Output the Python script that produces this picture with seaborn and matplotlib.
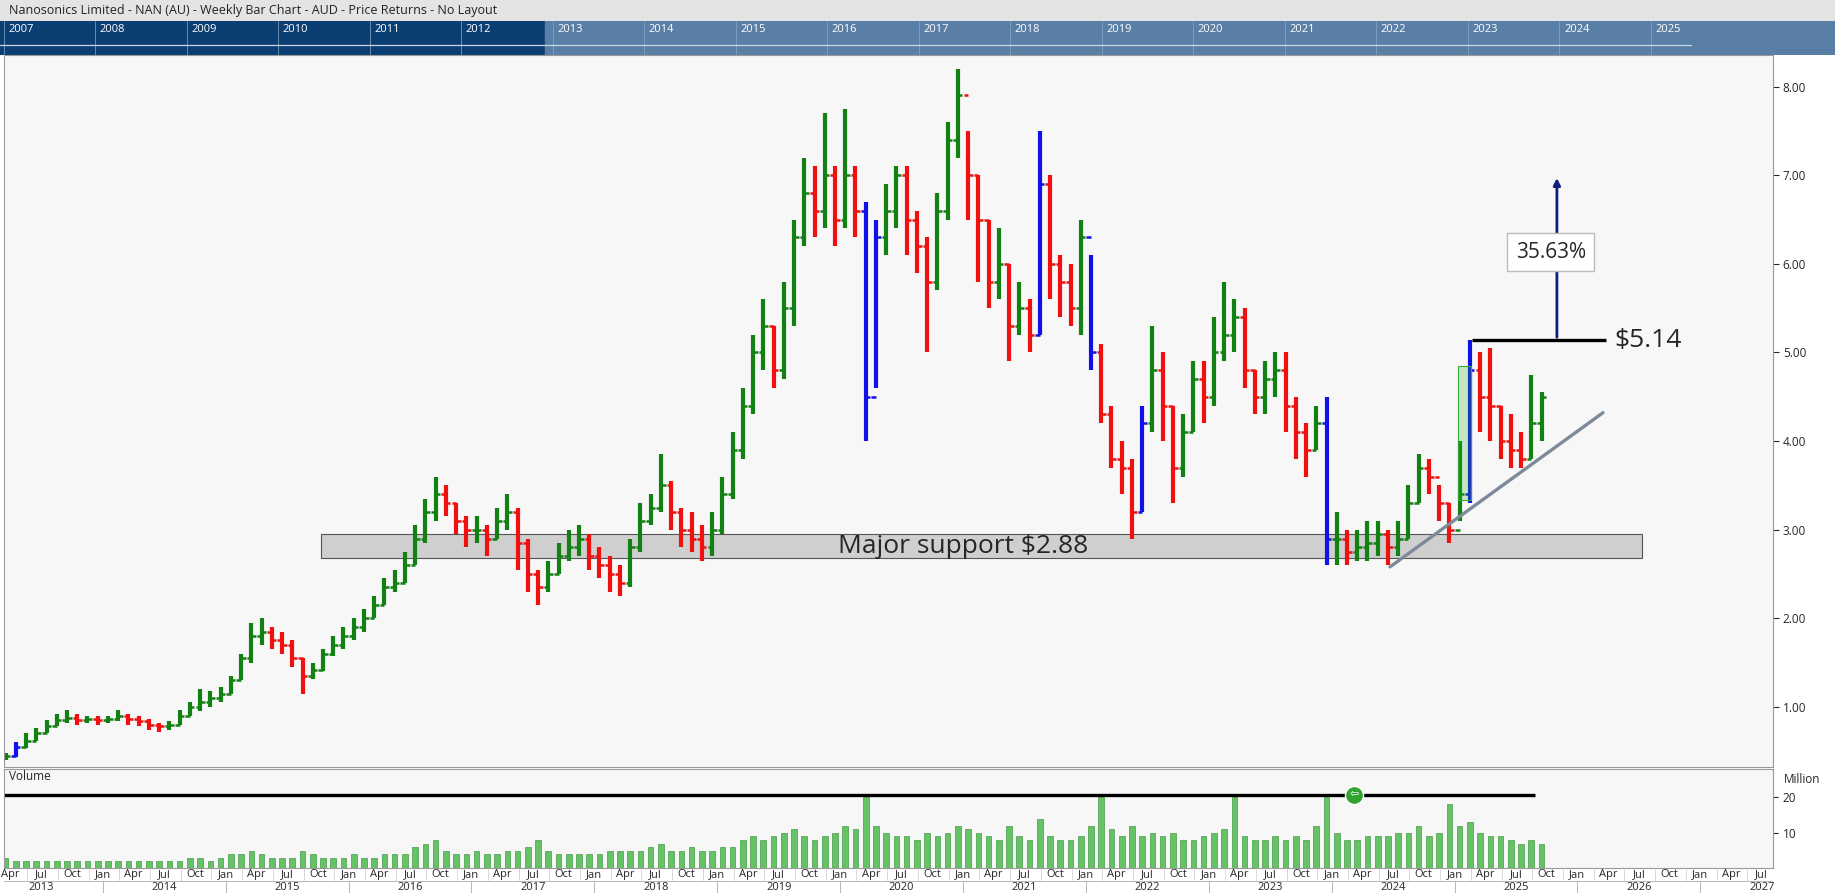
import matplotlib
matplotlib.use("Agg")
import matplotlib.pyplot as plt
import matplotlib.patches as mpatches
import numpy as np
import seaborn as sns

sns.set_style("white")
plt.rcParams['font.family'] = ['Open Sans', 'DejaVu Sans']

# monthly bars, first bar = Mar 2013 (month index 2, Jan 2013 = 0)
START = 2
close = [0.45, 0.55, 0.62, 0.70, 0.78, 0.85, 0.88, 0.85, 0.86, 0.85,
         0.86, 0.90, 0.86, 0.84, 0.80, 0.78, 0.80, 0.90, 1.00, 1.05, 1.10, 1.15,
         1.30, 1.55, 1.80, 1.85, 1.75, 1.70, 1.55, 1.35, 1.42, 1.60, 1.70, 1.80,
         1.90, 2.00, 2.15, 2.35, 2.40, 2.60, 2.90, 3.20, 3.40, 3.30, 3.10, 3.00,
         3.00, 2.90, 3.10, 3.20, 2.85, 2.50, 2.35, 2.50, 2.70, 2.80, 2.90, 2.70,
         2.60, 2.50, 2.40, 2.80, 3.10, 3.25, 3.50, 3.20, 3.00, 2.90, 2.80, 3.00,
         3.40, 3.90, 4.40, 5.00, 5.30, 4.80, 5.50, 6.30, 6.80, 6.60, 7.00, 6.50,
         7.00, 6.60, 4.50, 6.30, 6.60, 7.00, 6.50, 6.20, 5.80, 6.60, 7.40, 7.90,
         7.00, 6.50, 5.80, 6.00, 5.30, 5.50, 5.20, 6.90, 6.00, 5.80, 5.50, 6.30,
         5.00, 4.30, 3.80, 3.70, 3.20, 4.20, 4.80, 4.40, 3.70, 4.10, 4.70, 4.50,
         5.00, 5.20, 5.40, 4.80, 4.50, 4.70, 4.80, 4.40, 4.10, 3.90, 4.20, 2.90,
         2.90, 2.75, 2.80, 2.85, 2.95, 2.80, 2.90, 3.30, 3.70, 3.60, 3.30, 3.00,
         3.40, 4.80, 4.50, 4.40, 4.00, 3.90, 3.80, 4.20, 4.50]
high = [0.48, 0.60, 0.70, 0.76, 0.85, 0.92, 0.96, 0.92, 0.90, 0.90,
        0.90, 0.96, 0.92, 0.90, 0.86, 0.82, 0.84, 0.96, 1.06, 1.20, 1.18, 1.22,
        1.35, 1.60, 1.95, 2.00, 1.90, 1.85, 1.75, 1.55, 1.50, 1.65, 1.80, 1.90,
        2.00, 2.10, 2.25, 2.45, 2.55, 2.75, 3.05, 3.35, 3.60, 3.50, 3.30, 3.15,
        3.15, 3.05, 3.25, 3.40, 3.25, 2.90, 2.55, 2.65, 2.85, 3.00, 3.05, 2.95,
        2.80, 2.70, 2.60, 2.90, 3.30, 3.40, 3.85, 3.55, 3.25, 3.20, 3.05, 3.20,
        3.60, 4.10, 4.60, 5.20, 5.60, 5.30, 5.80, 6.50, 7.20, 7.10, 7.70, 7.10,
        7.75, 7.10, 6.70, 6.50, 6.90, 7.10, 7.10, 6.60, 6.30, 6.80, 7.60, 8.20,
        7.50, 7.00, 6.50, 6.40, 6.00, 5.80, 5.60, 7.50, 7.00, 6.10, 6.00, 6.50,
        6.10, 5.10, 4.40, 4.00, 3.80, 4.40, 5.30, 5.00, 4.40, 4.30, 4.90, 4.90,
        5.40, 5.80, 5.60, 5.50, 4.80, 4.90, 5.00, 5.00, 4.50, 4.20, 4.40, 4.50,
        3.20, 3.00, 3.00, 3.10, 3.10, 3.00, 3.10, 3.50, 3.85, 3.80, 3.50, 3.30,
        4.00, 5.14, 5.00, 5.05, 4.40, 4.30, 4.10, 4.75, 4.55]
low = [0.40, 0.44, 0.54, 0.62, 0.70, 0.78, 0.82, 0.80, 0.82, 0.80,
       0.82, 0.84, 0.80, 0.78, 0.74, 0.72, 0.74, 0.80, 0.90, 0.95, 1.00, 1.05,
       1.15, 1.30, 1.50, 1.70, 1.65, 1.60, 1.45, 1.15, 1.32, 1.40, 1.58, 1.65,
       1.75, 1.85, 2.00, 2.15, 2.30, 2.40, 2.60, 2.85, 3.10, 3.15, 2.95, 2.80,
       2.85, 2.70, 2.90, 3.00, 2.55, 2.30, 2.15, 2.30, 2.50, 2.65, 2.70, 2.55,
       2.45, 2.30, 2.25, 2.35, 2.75, 3.05, 3.20, 3.00, 2.80, 2.75, 2.65, 2.70,
       2.95, 3.35, 3.80, 4.30, 4.80, 4.60, 4.70, 5.30, 6.20, 6.30, 6.40, 6.20,
       6.40, 6.30, 4.00, 4.60, 6.10, 6.40, 6.10, 5.90, 5.00, 5.70, 6.50, 7.20,
       6.50, 5.80, 5.50, 5.60, 4.90, 5.20, 5.00, 5.20, 5.60, 5.40, 5.30, 5.20,
       4.80, 4.20, 3.70, 3.40, 2.90, 3.20, 4.10, 4.00, 3.30, 3.60, 4.10, 4.20,
       4.40, 4.90, 5.00, 4.60, 4.30, 4.30, 4.50, 4.10, 3.80, 3.60, 3.90, 2.60,
       2.60, 2.60, 2.65, 2.65, 2.70, 2.60, 2.70, 2.90, 3.30, 3.40, 3.10, 2.85,
       3.10, 3.30, 4.10, 4.00, 3.80, 3.70, 3.70, 3.80, 4.00]
volume = [3, 2, 2, 2, 2, 2, 2, 2, 2, 2,
          2, 2, 2, 2, 2, 2, 2, 2, 3, 3, 2, 3,
          4, 4, 5, 4, 3, 3, 3, 5, 4, 3, 3, 3,
          4, 3, 3, 4, 4, 4, 6, 7, 8, 5, 4, 4,
          5, 4, 4, 5, 5, 6, 8, 5, 4, 4, 4, 4,
          4, 5, 5, 5, 5, 6, 7, 5, 5, 6, 5, 5,
          6, 6, 8, 9, 8, 9, 10, 11, 9, 8, 9, 10,
          12, 11, 20, 12, 10, 9, 9, 8, 10, 9, 10, 12,
          11, 10, 9, 8, 12, 9, 8, 14, 9, 8, 8, 9,
          12, 20, 11, 9, 12, 9, 10, 9, 10, 8, 8, 9,
          10, 11, 20, 9, 8, 8, 9, 8, 9, 8, 12, 20,
          10, 8, 8, 9, 9, 9, 10, 10, 12, 9, 10, 18,
          12, 13, 10, 9, 9, 8, 7, 8, 7]
price_ticks = [1, 2, 3, 4, 5, 6, 7, 8]
nav_years = list(range(2007, 2026))
axis_years = list(range(2013, 2028))

GREEN, RED, BLUE = "#138013", "#f01010", "#1010e8"
BG = "#f7f7f7"
XMIN, XMAX = 2.3, 175.1

fig = plt.figure(figsize=(18.35, 8.93), dpi=100)
W, H = 1568, 763  # layout measured in this coordinate space
def box(l, t, r, b):
    return [l / W, 1 - b / H, (r - l) / W, (b - t) / H]

# title bar
fig.patches.append(mpatches.Rectangle((0, 1 - 18 / H), 1, 18 / H, transform=fig.transFigure,
                                      color="#e4e4e4", zorder=-1))
fig.text(8 / W, 1 - 9 / H, "Nanosonics Limited - NAN (AU) - Weekly Bar Chart - AUD - Price Returns - No Layout",
         fontsize=9, va="center", color="#222")

# navigator
nav = fig.add_axes(box(0, 18, 1568, 47))
nav.set_xlim(0, 1568); nav.set_ylim(0, 1)
nav.axvspan(0, 466, color="#0b3f73")
nav.axvspan(466, 1568, color="#5a7fa6")
for i, yr in enumerate(nav_years):
    xp = 3 + i * 78.2
    nav.axvline(xp, color="#8fa8c4", lw=0.5)
    nav.text(xp + 4, 0.75, str(yr), color="white", fontsize=8, va="center")
nav.plot([0, 1445], [0.3, 0.3], color="#c8d6e6", lw=0.9)
nav.axis("off")

# main price panel
ax = fig.add_axes(box(3, 47, 1515, 655))
ax.set_facecolor(BG)
ax.set_xlim(XMIN, XMAX)
ax.set_ylim(1 - (655 - 604) / 75.7, 8 + (74 - 47) / 75.7)

opens = [close[0]] + close[:-1]
for i, (o, c, h, l) in enumerate(zip(opens, close, high, low)):
    m = START + i + 0.5
    col = GREEN if c >= o else RED
    if abs(c - o) / o > 0.2:
        col = BLUE
    ax.vlines(m, l, h, color=col, lw=3)
    ax.hlines(o, m - 0.45, m, color=col, lw=1.8)
    ax.hlines(c, m, m + 0.45, color=col, lw=1.8)

ax.add_patch(mpatches.Rectangle((33.3, 2.68), 162.3 - 33.3, 0.27, facecolor="#cfcfcf",
                                edgecolor="#555", lw=0.8, zorder=1))
ax.text(96, 2.815, "Major support $2.88", fontsize=19, ha="center", va="center", zorder=3)
ax.add_patch(mpatches.Rectangle((144.3, 3.33), 1.3, 1.52, facecolor=(0.2, 0.7, 0.2, 0.25),
                                edgecolor="#3a3", lw=0.8, zorder=3))
sns.lineplot(x=[137.7, 158.5], y=[2.58, 4.32], ax=ax, color="#7d8a99", lw=2.4, zorder=4)
ax.hlines(5.14, 145.7, 158.8, color="black", lw=2.4, zorder=4)
ax.text(159.6, 5.14, "$5.14", fontsize=19, va="center")
ax.annotate("", xy=(154, 7.0), xytext=(154, 5.14),
            arrowprops=dict(arrowstyle="-|>", color="#0e1f7a", lw=2))
ax.text(153.4, 6.13, "35.63%", fontsize=15, ha="center", va="center", zorder=5,
        bbox=dict(boxstyle="square,pad=0.4", fc="white", ec="#bbb"))

ax.yaxis.tick_right()
ax.set_yticks(price_ticks)
ax.set_yticklabels([f"{v:.2f}" for v in price_ticks], fontsize=8.5)
ax.tick_params(axis="y", length=4, pad=3)
ax.set_xticks([])
for s in ax.spines.values():
    s.set_color("#999")

# volume panel
vax = fig.add_axes(box(3, 657, 1515, 742))
vax.set_facecolor(BG)
vax.set_xlim(XMIN, XMAX)
vax.set_ylim(0, 20 + (677 - 657) / 2.5)
vax.bar([START + i + 0.5 for i in range(len(volume))], volume, width=0.55,
        color="#66c266", edgecolor="#2c8c2c", lw=0.4)
vax.hlines(20.8, XMIN, 151.9, color="black", lw=2.4)
vax.plot(134.2, 20.8, "o", ms=13, color="#2fa52f", mec="white")
vax.text(134.2, 20.8, "⇦", color="white", fontsize=8, ha="center", va="center")
vax.text(2.8, 26, "Volume", fontsize=8.5, va="center")
vax.yaxis.tick_right()
vax.set_yticks([10, 20])
vax.set_yticklabels(["10", "20"], fontsize=8.5)
vax.set_xticks([])
for s in vax.spines.values():
    s.set_color("#999")
fig.text(1524 / W, 1 - 666 / H, "Million", fontsize=8.5, va="center")

# date axis
dax = fig.add_axes(box(3, 742, 1515, 764))
dax.set_xlim(XMIN, XMAX); dax.set_ylim(0, 2)
dax.axhline(1, color="#aaa", lw=0.6)
for k, yr in enumerate(axis_years):
    base = k * 12
    for mo, lab in zip([3, 6, 9, 12], ["Apr", "Jul", "Oct", "Jan"]):
        xm = base + mo
        if XMIN <= xm <= XMAX:
            dax.text(xm, 1.5, lab, fontsize=8, ha="center", va="center")
            dax.vlines(xm - 1.4, 1, 2, color="#ccc", lw=0.5)
    dax.vlines(base, 0, 1, color="#aaa", lw=0.6)
    dax.text(max(base + 6, 3), 0.5, str(yr), fontsize=8, ha="center", va="center")
dax.axis("off")

fig.savefig("out.png", dpi=100, facecolor="white")
